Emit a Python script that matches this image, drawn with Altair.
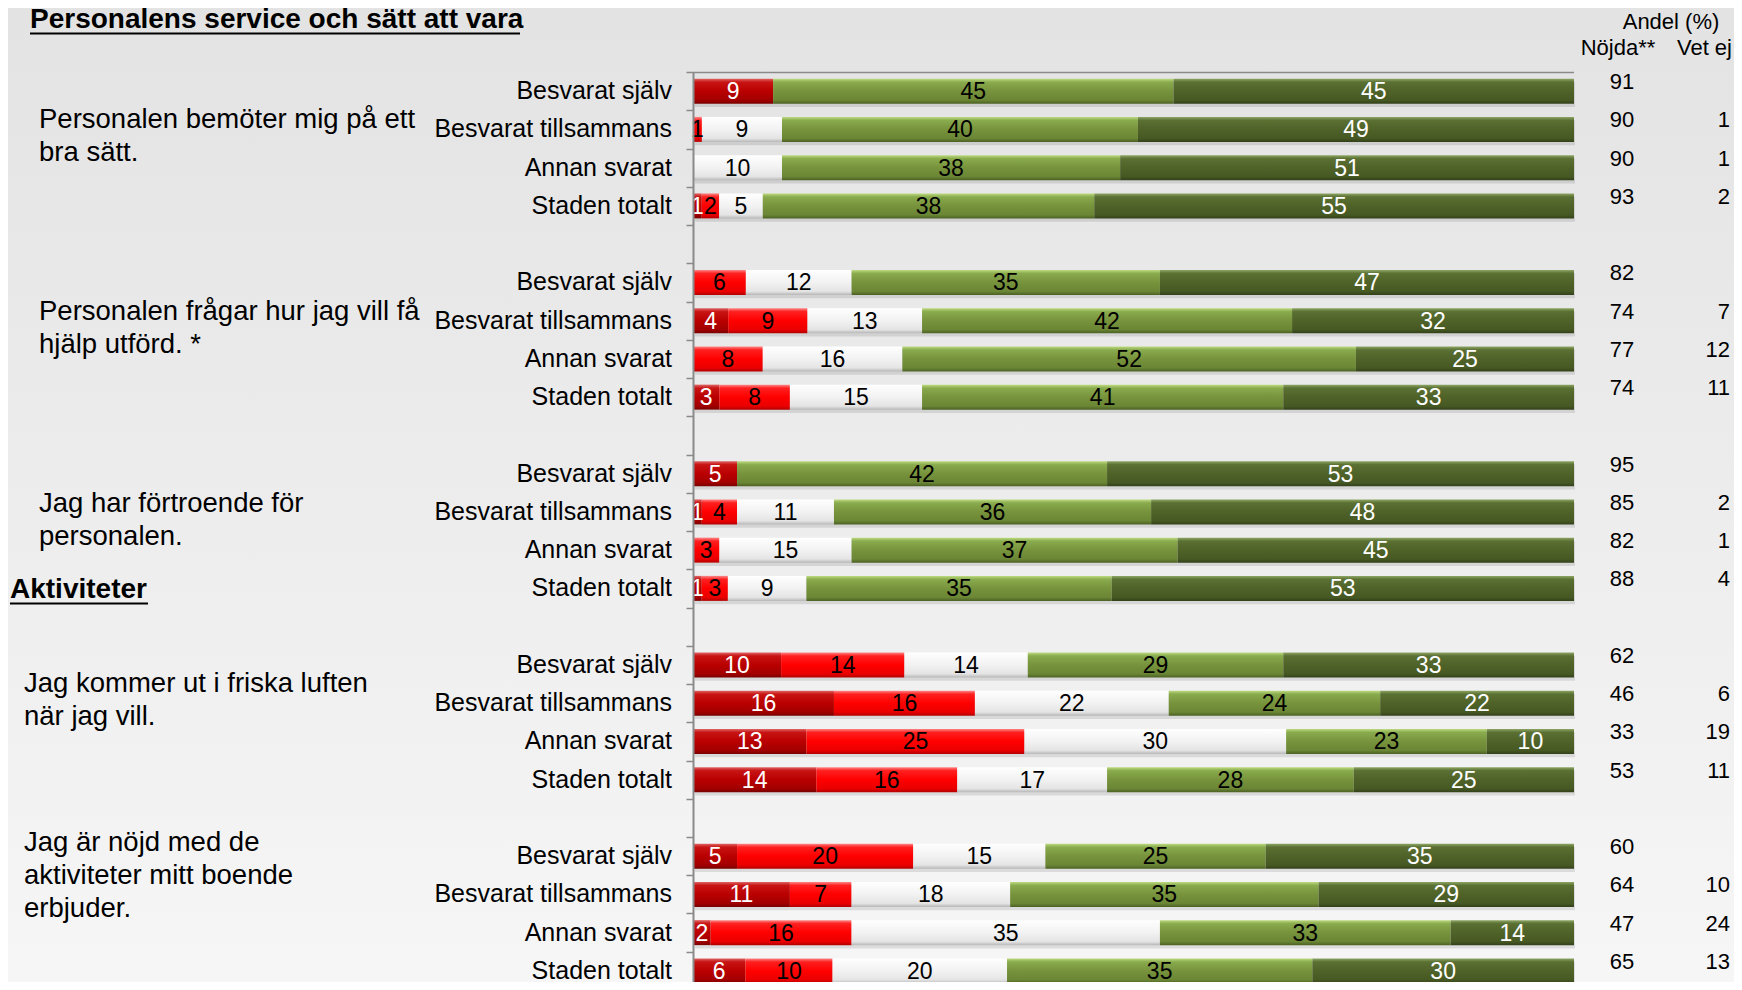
import altair as alt
import pandas as pd

# ---------------- data ----------------
questions = [
    "Personalen bemöter mig på ett\nbra sätt.",
    "Personalen frågar hur jag vill få\nhjälp utförd. *",
    "Jag har förtroende för\npersonalen.",
    "Jag kommer ut i friska luften\nnär jag vill.",
    "Jag är nöjd med de\naktiviteter mitt boende\nerbjuder.",
]
respondents = ["Besvarat själv", "Besvarat tillsammans", "Annan svarat", "Staden totalt"]
categories = ["Mycket missnöjd", "Missnöjd", "Varken eller", "Nöjd", "Mycket nöjd"]

very_dissatisfied = [9, 0, 0, 1, 0, 4, 0, 3, 5, 1, 0, 1, 10, 16, 13, 14, 5, 11, 2, 6]
dissatisfied = [0, 1, 0, 2, 6, 9, 8, 8, 0, 4, 3, 3, 14, 16, 25, 16, 20, 7, 16, 10]
neutral = [0, 9, 10, 5, 12, 13, 16, 15, 0, 11, 15, 9, 14, 22, 30, 17, 15, 18, 35, 20]
satisfied = [45, 40, 38, 38, 35, 42, 52, 41, 42, 36, 37, 35, 29, 24, 23, 28, 25, 35, 33, 35]
very_satisfied = [45, 49, 51, 55, 47, 32, 25, 33, 53, 48, 45, 53, 33, 22, 10, 25, 35, 29, 14, 30]
nojda = [91, 90, 90, 93, 82, 74, 77, 74, 95, 85, 82, 88, 62, 46, 33, 53, 60, 64, 47, 65]
vet_ej = [None, 1, 1, 2, None, 7, 12, 11, None, 2, 1, 4, None, 6, 19, 11, None, 10, 24, 13]

series = [very_dissatisfied, dissatisfied, neutral, satisfied, very_satisfied]

# ---------------- tables ----------------
seg_rows, row_rows = [], []
for i in range(len(nojda)):
    g, r = divmod(i, len(respondents))
    slot = g * (len(respondents) + 1) + r
    row_rows.append({"slot": slot, "resp": respondents[r], "nojda": nojda[i], "vetej": vet_ej[i]})
    for k, s in enumerate(series):
        seg_rows.append({"slot": slot, "cat": k, "catname": categories[k], "value": s[i]})
seg_df = pd.DataFrame(seg_rows)
row_df = pd.DataFrame(row_rows)
q_df = pd.DataFrame({"q": questions, "qi": list(range(len(questions)))})

# ---------------- styling ----------------
FONT = "Liberation Sans"
PL, PT, PR = 685, 64, 160
W, H = 881, 974 - PT
SLOT_PX = 38.25
SLOT_MAX = -0.5 + H / SLOT_PX


def grad(stops):
    return {"gradient": "linear", "x1": 0, "y1": 0, "x2": 0, "y2": 1,
            "stops": [{"offset": o, "color": c} for o, c in stops]}


bar_fill = [
    grad([(0, "#E06868"), (0.14, "#C81414"), (0.5, "#BA0000"), (0.86, "#A20000"), (1, "#7A0000")]),
    grad([(0, "#FF8A8A"), (0.14, "#FF2020"), (0.5, "#FF0000"), (0.86, "#EA0000"), (1, "#B40000")]),
    grad([(0, "#FFFFFF"), (0.14, "#FBFBFB"), (0.5, "#F2F2F2"), (0.86, "#E4E4E4"), (1, "#B8B8B8")]),
    grad([(0, "#BFDC82"), (0.14, "#8AAB4E"), (0.5, "#77933C"), (0.86, "#6B8635"), (1, "#4C6224")]),
    grad([(0, "#8FA866"), (0.14, "#5B7033"), (0.5, "#4F6228"), (0.86, "#475923"), (1, "#33411A")]),
]
text_colors = ["#FFFFFF", "#000000", "#000000", "#000000", "#FFFFFF"]
q_x = [-654, -654, -654, -669, -669]
q_dy = [-28.6, -27.8, -27, -38.3, -70.8]

yscale = alt.Scale(domain=[-0.5, SLOT_MAX], reverse=True, nice=False, zero=False, padding=0)
yaxis = alt.Axis(values=[k - 0.5 for k in range(24)], labels=False, grid=False, title=None,
                 domainColor="#8A8A8A", domainWidth=2, tickColor="#8A8A8A", tickWidth=1.5,
                 tickSize=7, zindex=1)
Y = alt.Y("slot:Q", scale=yscale, axis=yaxis)
xscale = alt.Scale(domain=[0, 1], nice=False, zero=False, padding=0)

one = pd.DataFrame({"a": [0]})

background = alt.Chart(one).mark_rect(
    color=grad([(0, "#E3E3E3"), (1, "#F6F6F6")])
).encode(x=alt.value(-PL), x2=alt.value(W + PR), y=alt.value(-PT), y2=alt.value(H))

shadow = alt.Chart(row_df).transform_calculate(ys="datum.slot + 0.09").mark_bar(
    orient="horizontal", size=25, color="#000000", opacity=0.10
).encode(x=alt.value(2), x2=alt.value(W + 1), y=alt.Y("ys:Q", scale=yscale, axis=yaxis))

base = alt.Chart(seg_df).transform_filter(alt.datum.value > 0).transform_stack(
    stack="value", groupby=["slot"], as_=["x0", "x1"], offset="normalize",
    sort=[alt.SortField("cat", order="ascending")]
)

bars = [
    base.transform_filter(alt.datum.cat == k).mark_bar(
        orient="horizontal", size=25, color=bar_fill[k]
    ).encode(x=alt.X("x0:Q", scale=xscale, axis=None), x2="x1:Q", y=Y)
    for k in range(5)
]

seg_text = base.transform_calculate(mid="(datum.x0 + datum.x1) / 2").mark_text(
    font=FONT, fontSize=23, baseline="middle", dy=1
).encode(
    x=alt.X("mid:Q", scale=xscale, axis=None), y=Y, text="value:Q",
    color=alt.Color("cat:O", scale=alt.Scale(domain=list(range(5)), range=text_colors), legend=None),
)

top_line = alt.Chart(one).mark_rule(color="#8A8A8A", strokeWidth=1.5).encode(
    x=alt.value(0), x2=alt.value(W), y=alt.value(0.5))

resp_text = alt.Chart(row_df).mark_text(
    font=FONT, fontSize=25, align="right", baseline="middle", color="#000000", dy=0
).encode(x=alt.value(-21), y=Y, text="resp:N")

nojda_text = alt.Chart(row_df).mark_text(
    font=FONT, fontSize=22, align="center", baseline="middle", color="#000000", dy=-9
).encode(x=alt.value(929), y=Y, text="nojda:Q")

vetej_text = alt.Chart(row_df).transform_filter("isValid(datum.vetej)").mark_text(
    font=FONT, fontSize=22, align="right", baseline="middle", color="#000000", dy=-9
).encode(x=alt.value(1037), y=Y, text="vetej:Q")

q_layers = []
for i in range(len(questions)):
    q_layers.append(
        alt.Chart(q_df).transform_filter(alt.datum.qi == i).transform_calculate(
            ys="datum.qi * 5 + 1.5"
        ).mark_text(
            font=FONT, fontSize=27.5, align="left", baseline="middle", lineBreak="\n",
            lineHeight=33, color="#000000", dy=q_dy[i]
        ).encode(x=alt.value(q_x[i]), y=alt.Y("ys:Q", scale=yscale, axis=yaxis), text="q:N")
    )


def label(txt, x, y, size, align="center", bold=False):
    return alt.Chart(one).mark_text(
        text=txt, font=FONT, fontSize=size, align=align, baseline="middle",
        fontWeight="bold" if bold else "normal", color="#000000"
    ).encode(x=alt.value(x), y=alt.value(y))


title = label("Personalens service och sätt att vara", -663, -52.5, 28, align="left", bold=True)
title_ul = alt.Chart(one).mark_rule(color="#000000", strokeWidth=2).encode(
    x=alt.value(-663), x2=alt.value(-173), y=alt.value(-38.5))
akt = label("Aktiviteter", -683, 517.5, 28, align="left", bold=True)
akt_ul = alt.Chart(one).mark_rule(color="#000000", strokeWidth=2).encode(
    x=alt.value(-683), x2=alt.value(-545), y=alt.value(531.5))
h_andel = label("Andel (%)", 978, -50.5, 22)
h_nojda = label("Nöjda**", 925, -24.5, 22)
h_vetej = label("Vet ej", 1039, -24.5, 22, align="right")

chart = alt.layer(
    background, shadow, *bars, seg_text, top_line, resp_text, nojda_text, vetej_text,
    *q_layers, title, title_ul, akt, akt_ul, h_andel, h_nojda, h_vetej
).properties(
    width=W, height=H,
    padding={"left": PL, "top": PT, "right": PR, "bottom": 0},
    autosize=alt.AutoSizeParams(type="none"),
    background="#E8E8E8",
).configure_view(stroke=None)

chart.save("out.html", embed_options={"renderer": "svg", "actions": False})
